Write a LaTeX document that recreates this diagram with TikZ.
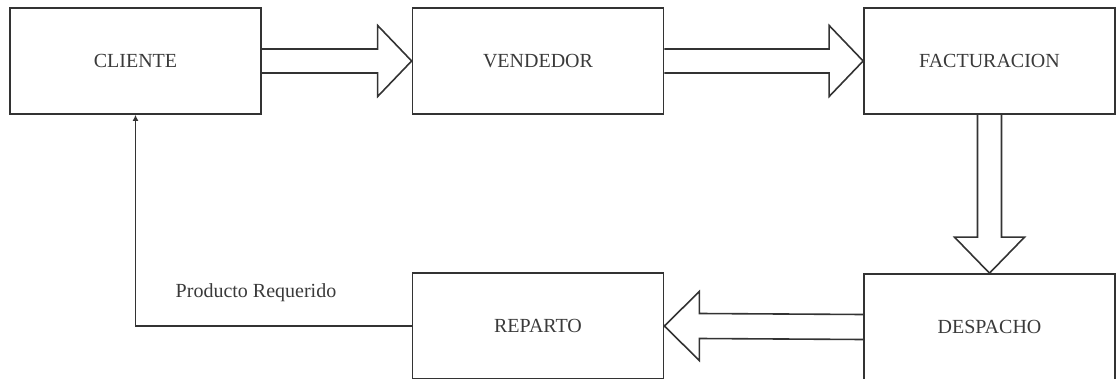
\documentclass[tikz,border=0pt]{standalone}
\usepackage{fontspec}
\setmainfont{Liberation Serif}
\usetikzlibrary{calc,arrows.meta}
\definecolor{ln}{HTML}{333333}
\definecolor{tx}{HTML}{3A3A3A}
\tikzset{
  box/.style={draw=ln, line width=1.7pt, minimum width=251pt, minimum height=106pt, inner sep=0pt, text=tx, font=\fontsize{20}{24}\selectfont},
  blk/.style={draw=ln, line width=1.6pt, line join=miter},
  lbl/.style={text=tx, font=\fontsize{20}{24}\selectfont, inner sep=0pt}
}
\begin{document}
\begin{tikzpicture}[x=1pt,y=1pt]
\useasboundingbox (0,0) rectangle (1116,378);
\clip (0,0) rectangle (1116,378);
\node[box] (cli) at (135.5,317) {CLIENTE};
\node[box] (ven) at (538,317) {VENDEDOR};
\node[box] (fac) at (989.5,317) {FACTURACION};
\node[box] (des) at (989.5,51) {DESPACHO};
\node[box] (rep) at (538,52) {REPARTO};
% block arrow cli -> ven
\draw[blk] ($(cli.east)+(0,12)$) -- ($(ven.west)+(-34,12)$) -- ($(ven.west)+(-34,35.5)$) -- (ven.west) -- ($(ven.west)+(-34,-35.5)$) -- ($(ven.west)+(-34,-12)$) -- ($(cli.east)+(0,-12)$);
% block arrow ven -> fac
\draw[blk] ($(ven.east)+(0,12)$) -- ($(fac.west)+(-34,12)$) -- ($(fac.west)+(-34,35.5)$) -- (fac.west) -- ($(fac.west)+(-34,-35.5)$) -- ($(fac.west)+(-34,-12)$) -- ($(ven.east)+(0,-12)$);
% block arrow fac -> des
\draw[blk] ($(fac.south)+(-12,0)$) -- ($(des.north)+(-12,36)$) -- ($(des.north)+(-35,36)$) -- (des.north) -- ($(des.north)+(35,36)$) -- ($(des.north)+(12,36)$) -- ($(fac.south)+(12,0)$);
% block arrow des -> rep
\draw[blk] ($(des.west)+(0,12.5)$) -- ($(rep.east)+(35,12.5)$) -- ($(rep.east)+(35,34.5)$) -- (rep.east) -- ($(rep.east)+(35,-34.5)$) -- ($(rep.east)+(35,-12.5)$) -- ($(des.west)+(0,-12.5)$);
% feedback
\coordinate (corner) at (cli.south |- rep.west);
\draw[ln, line width=1.6pt, -{Latex[length=6pt,width=6pt]}] (rep.west) -- (corner) -- (cli.south);
\node[lbl] (pr) at (256,85) {Producto Requerido};
\end{tikzpicture}
\end{document}
